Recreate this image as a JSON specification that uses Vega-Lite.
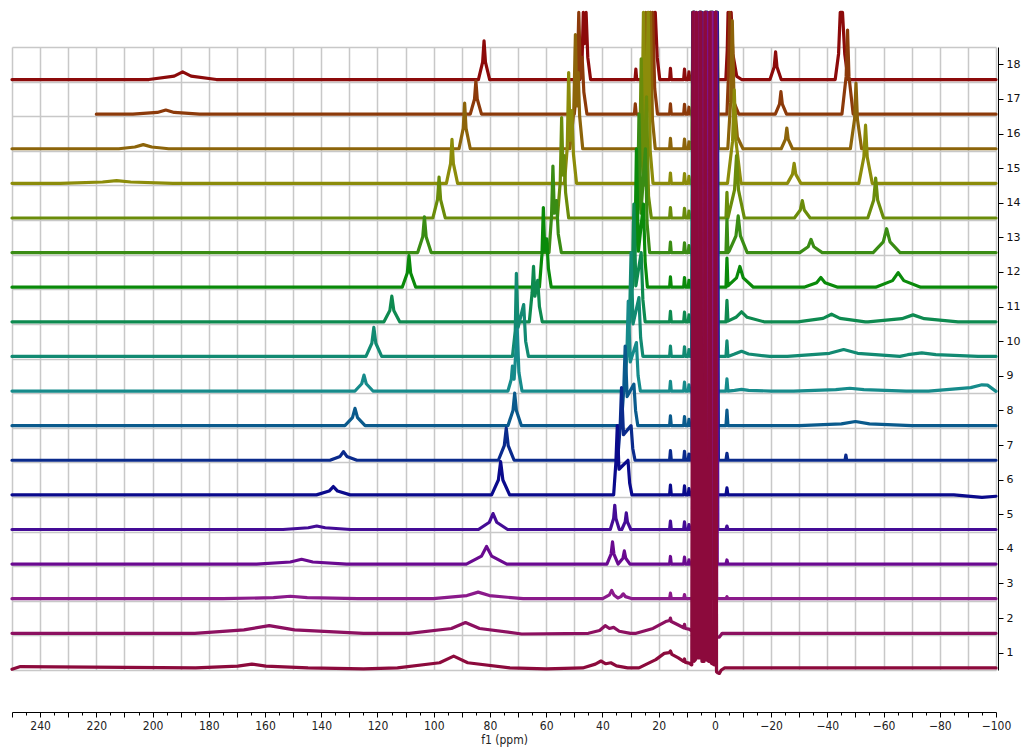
{
"$schema":"https://vega.github.io/schema/vega-lite/v6.json",
"width":984,"height":623,
"autosize":{"type":"none"},
"padding":{"left":12,"top":47,"right":30,"bottom":78},
"background":"white",
"config":{"view":{"stroke":null}},
"data":{"values":[
{"s":18,"x":250,"y":17.56},{"s":18,"x":201.3,"y":17.56},{"s":18,"x":192.3,"y":17.66},{"s":18,"x":189.3,"y":17.78},{"s":18,"x":186.3,"y":17.66},{"s":18,"x":177.3,"y":17.56},
{"s":18,"x":84.1,"y":17.56},{"s":18,"x":82.6,"y":18.06},{"s":18,"x":82.1,"y":18.68},{"s":18,"x":81.6,"y":18.06},{"s":18,"x":80.1,"y":17.56},
{"s":18,"x":48.0,"y":17.56},{"s":18,"x":47.2,"y":18.2},{"s":18,"x":46.8,"y":19.5},{"s":18,"x":46.3,"y":18.6},{"s":18,"x":45.8,"y":19.5},{"s":18,"x":45.2,"y":18.2},{"s":18,"x":44.2,"y":17.56},
{"s":18,"x":28.4,"y":17.56},{"s":18,"x":28.1,"y":17.86},{"s":18,"x":27.8,"y":17.56},
{"s":18,"x":24.0,"y":17.56},{"s":18,"x":23.3,"y":18.5},{"s":18,"x":23.0,"y":19.5},{"s":18,"x":22.2,"y":18.3},{"s":18,"x":21.2,"y":19.5},{"s":18,"x":20.5,"y":18.2},{"s":18,"x":19.6,"y":17.56},
{"s":18,"x":16.1,"y":17.56},{"s":18,"x":15.8,"y":17.88},{"s":18,"x":15.5,"y":17.56},{"s":18,"x":11.1,"y":17.56},{"s":18,"x":10.8,"y":17.86},{"s":18,"x":10.5,"y":17.56},{"s":18,"x":9.5,"y":17.56},{"s":18,"x":9.2,"y":17.78},{"s":18,"x":8.9,"y":17.56},
{"s":18,"x":7.95,"y":17.56},{"s":18,"x":7.6,"y":19.5},{"s":18,"x":7.25,"y":17.56},{"s":18,"x":5.85,"y":17.56},{"s":18,"x":5.5,"y":19.5},{"s":18,"x":5.15,"y":17.56},{"s":18,"x":3.45,"y":17.56},{"s":18,"x":3.1,"y":19.5},{"s":18,"x":2.75,"y":17.56},{"s":18,"x":1.65,"y":17.56},{"s":18,"x":1.3,"y":19.5},{"s":18,"x":0.95,"y":17.56},{"s":18,"x":-0.25,"y":17.56},{"s":18,"x":-0.6,"y":19.5},{"s":18,"x":-0.95,"y":17.56},
{"s":18,"x":-3.9,"y":17.56},{"s":18,"x":-4.4,"y":18.4},{"s":18,"x":-4.7,"y":19.5},{"s":18,"x":-5.2,"y":18.6},{"s":18,"x":-5.8,"y":19.5},{"s":18,"x":-6.4,"y":18.3},{"s":18,"x":-7.8,"y":17.65},{"s":18,"x":-9.5,"y":17.56},
{"s":18,"x":-19.6,"y":17.56},{"s":18,"x":-21.1,"y":17.92},{"s":18,"x":-21.6,"y":18.36},{"s":18,"x":-22.1,"y":17.92},{"s":18,"x":-23.6,"y":17.56},
{"s":18,"x":-42.8,"y":17.56},{"s":18,"x":-44.0,"y":18.3},{"s":18,"x":-44.6,"y":19.5},{"s":18,"x":-45.4,"y":19.5},{"s":18,"x":-46.2,"y":18.3},{"s":18,"x":-47.4,"y":17.56},
{"s":18,"x":-100,"y":17.56},

{"s":17,"x":220,"y":16.56},{"s":17,"x":207,"y":16.56},{"s":17,"x":198.3,"y":16.61},{"s":17,"x":195.3,"y":16.68},{"s":17,"x":192.3,"y":16.61},{"s":17,"x":183.3,"y":16.56},
{"s":17,"x":87.0,"y":16.56},{"s":17,"x":85.5,"y":16.99},{"s":17,"x":85.0,"y":17.52},{"s":17,"x":84.5,"y":16.99},{"s":17,"x":83.0,"y":16.56},
{"s":17,"x":50.0,"y":16.56},{"s":17,"x":49.0,"y":17.4},{"s":17,"x":48.4,"y":19.5},{"s":17,"x":47.8,"y":17.6},{"s":17,"x":47.2,"y":18.2},{"s":17,"x":46.6,"y":17.2},{"s":17,"x":45.5,"y":16.56},
{"s":17,"x":28.6,"y":16.56},{"s":17,"x":28.3,"y":16.86},{"s":17,"x":28.0,"y":16.56},
{"s":17,"x":24.8,"y":16.56},{"s":17,"x":24.1,"y":17.5},{"s":17,"x":23.8,"y":19.5},{"s":17,"x":23.0,"y":17.6},{"s":17,"x":22.1,"y":19.5},{"s":17,"x":21.4,"y":17.3},{"s":17,"x":20.4,"y":16.56},
{"s":17,"x":16.1,"y":16.56},{"s":17,"x":15.8,"y":16.86},{"s":17,"x":15.5,"y":16.56},{"s":17,"x":11.1,"y":16.56},{"s":17,"x":10.8,"y":16.84},{"s":17,"x":10.5,"y":16.56},{"s":17,"x":9.5,"y":16.56},{"s":17,"x":9.2,"y":16.76},{"s":17,"x":8.9,"y":16.56},
{"s":17,"x":7.65,"y":16.56},{"s":17,"x":7.3,"y":19.5},{"s":17,"x":6.95,"y":16.56},{"s":17,"x":5.35,"y":16.56},{"s":17,"x":5.0,"y":19.5},{"s":17,"x":4.65,"y":16.56},{"s":17,"x":3.95,"y":16.56},{"s":17,"x":3.6,"y":19.5},{"s":17,"x":3.25,"y":16.56},{"s":17,"x":1.35,"y":16.56},{"s":17,"x":1.0,"y":19.5},{"s":17,"x":0.65,"y":16.56},{"s":17,"x":0.05,"y":16.56},{"s":17,"x":-0.3,"y":19.5},{"s":17,"x":-0.65,"y":16.56},
{"s":17,"x":-4.3,"y":16.56},{"s":17,"x":-4.8,"y":17.6},{"s":17,"x":-5.3,"y":19.5},{"s":17,"x":-5.8,"y":17.8},{"s":17,"x":-6.8,"y":16.9},{"s":17,"x":-8.5,"y":16.56},
{"s":17,"x":-21.5,"y":16.56},{"s":17,"x":-23.0,"y":16.85},{"s":17,"x":-23.5,"y":17.21},{"s":17,"x":-24.0,"y":16.85},{"s":17,"x":-25.5,"y":16.56},
{"s":17,"x":-45.2,"y":16.56},{"s":17,"x":-46.7,"y":17.65},{"s":17,"x":-47.2,"y":18.99},{"s":17,"x":-47.7,"y":17.65},{"s":17,"x":-49.2,"y":16.56},
{"s":17,"x":-100,"y":16.56},

{"s":16,"x":250,"y":15.56},{"s":16,"x":212,"y":15.56},{"s":16,"x":206.3,"y":15.61},{"s":16,"x":203.3,"y":15.68},{"s":16,"x":200.3,"y":15.61},{"s":16,"x":194.3,"y":15.56},
{"s":16,"x":91.0,"y":15.56},{"s":16,"x":89.5,"y":16.15},{"s":16,"x":89.0,"y":16.88},{"s":16,"x":88.5,"y":16.15},{"s":16,"x":87.0,"y":15.56},
{"s":16,"x":51.6,"y":15.56},{"s":16,"x":50.2,"y":16.6},{"s":16,"x":49.6,"y":18.86},{"s":16,"x":49.1,"y":16.8},{"s":16,"x":48.6,"y":17.76},{"s":16,"x":48.1,"y":16.5},{"s":16,"x":47.0,"y":15.56},
{"s":16,"x":25.6,"y":15.56},{"s":16,"x":24.9,"y":16.6},{"s":16,"x":24.6,"y":19.5},{"s":16,"x":23.8,"y":16.7},{"s":16,"x":22.9,"y":19.5},{"s":16,"x":22.2,"y":16.4},{"s":16,"x":21.2,"y":15.56},
{"s":16,"x":16.1,"y":15.56},{"s":16,"x":15.8,"y":15.86},{"s":16,"x":15.5,"y":15.56},{"s":16,"x":11.1,"y":15.56},{"s":16,"x":10.8,"y":15.84},{"s":16,"x":10.5,"y":15.56},{"s":16,"x":9.5,"y":15.56},{"s":16,"x":9.2,"y":15.76},{"s":16,"x":8.9,"y":15.56},
{"s":16,"x":8.15,"y":15.56},{"s":16,"x":7.8,"y":19.5},{"s":16,"x":7.45,"y":15.56},{"s":16,"x":5.65,"y":15.56},{"s":16,"x":5.3,"y":19.5},{"s":16,"x":4.95,"y":15.56},{"s":16,"x":3.25,"y":15.56},{"s":16,"x":2.9,"y":19.5},{"s":16,"x":2.55,"y":15.56},{"s":16,"x":1.85,"y":15.56},{"s":16,"x":1.5,"y":19.5},{"s":16,"x":1.15,"y":15.56},{"s":16,"x":-0.55,"y":15.56},{"s":16,"x":-0.9,"y":19.5},{"s":16,"x":-1.25,"y":15.56},
{"s":16,"x":-4.6,"y":15.56},{"s":16,"x":-5.6,"y":16.9},{"s":16,"x":-6.2,"y":19.26},{"s":16,"x":-6.8,"y":17.0},{"s":16,"x":-8.0,"y":15.9},{"s":16,"x":-10.0,"y":15.56},
{"s":16,"x":-23.6,"y":15.56},{"s":16,"x":-25.1,"y":15.83},{"s":16,"x":-25.6,"y":16.16},{"s":16,"x":-26.1,"y":15.83},{"s":16,"x":-27.6,"y":15.56},
{"s":16,"x":-48.2,"y":15.56},{"s":16,"x":-49.7,"y":16.42},{"s":16,"x":-50.2,"y":17.46},{"s":16,"x":-50.7,"y":16.42},{"s":16,"x":-52.2,"y":15.56},
{"s":16,"x":-100,"y":15.56},

{"s":15,"x":250,"y":14.56},{"s":15,"x":232.8,"y":14.56},{"s":15,"x":217.8,"y":14.6},{"s":15,"x":212.8,"y":14.64},{"s":15,"x":207.8,"y":14.6},{"s":15,"x":192.8,"y":14.56},
{"s":15,"x":95.5,"y":14.56},{"s":15,"x":94.0,"y":15.13},{"s":15,"x":93.5,"y":15.83},{"s":15,"x":93.0,"y":15.13},{"s":15,"x":91.5,"y":14.56},
{"s":15,"x":53.5,"y":14.56},{"s":15,"x":52.5,"y":15.6},{"s":15,"x":52.0,"y":17.76},{"s":15,"x":51.5,"y":15.8},{"s":15,"x":50.9,"y":16.66},{"s":15,"x":50.3,"y":15.4},{"s":15,"x":49.2,"y":14.56},
{"s":15,"x":27.2,"y":14.56},{"s":15,"x":26.0,"y":15.4},{"s":15,"x":25.4,"y":19.5},{"s":15,"x":24.6,"y":15.6},{"s":15,"x":23.7,"y":19.5},{"s":15,"x":23.0,"y":15.5},{"s":15,"x":22.0,"y":14.56},
{"s":15,"x":16.1,"y":14.56},{"s":15,"x":15.8,"y":14.86},{"s":15,"x":15.5,"y":14.56},{"s":15,"x":11.1,"y":14.56},{"s":15,"x":10.8,"y":14.84},{"s":15,"x":10.5,"y":14.56},{"s":15,"x":9.5,"y":14.56},{"s":15,"x":9.2,"y":14.76},{"s":15,"x":8.9,"y":14.56},
{"s":15,"x":7.45,"y":14.56},{"s":15,"x":7.1,"y":19.5},{"s":15,"x":6.75,"y":14.56},{"s":15,"x":5.05,"y":14.56},{"s":15,"x":4.7,"y":19.5},{"s":15,"x":4.35,"y":14.56},{"s":15,"x":3.55,"y":14.56},{"s":15,"x":3.2,"y":19.5},{"s":15,"x":2.85,"y":14.56},{"s":15,"x":1.15,"y":14.56},{"s":15,"x":0.8,"y":19.5},{"s":15,"x":0.45,"y":14.56},{"s":15,"x":-0.15,"y":14.56},{"s":15,"x":-0.5,"y":19.5},{"s":15,"x":-0.85,"y":14.56},
{"s":15,"x":-4.5,"y":14.56},{"s":15,"x":-6.3,"y":15.78},{"s":15,"x":-6.9,"y":17.26},{"s":15,"x":-7.5,"y":15.78},{"s":15,"x":-9.3,"y":14.56},
{"s":15,"x":-25.8,"y":14.56},{"s":15,"x":-27.6,"y":14.82},{"s":15,"x":-28.2,"y":15.14},{"s":15,"x":-28.8,"y":14.82},{"s":15,"x":-30.6,"y":14.56},
{"s":15,"x":-51.2,"y":14.56},{"s":15,"x":-53.0,"y":15.32},{"s":15,"x":-53.6,"y":16.24},{"s":15,"x":-54.2,"y":15.32},{"s":15,"x":-56.0,"y":14.56},
{"s":15,"x":-100,"y":14.56},

{"s":14,"x":250,"y":13.56},
{"s":14,"x":100.3,"y":13.56},{"s":14,"x":98.65,"y":14.09},{"s":14,"x":98.1,"y":14.74},{"s":14,"x":97.55,"y":14.09},{"s":14,"x":95.9,"y":13.56},
{"s":14,"x":56.0,"y":13.56},{"s":14,"x":55.0,"y":14.6},{"s":14,"x":54.5,"y":16.46},{"s":14,"x":54.0,"y":14.8},{"s":14,"x":53.6,"y":15.36},{"s":14,"x":53.1,"y":14.3},{"s":14,"x":52.0,"y":13.56},
{"s":14,"x":27.8,"y":13.56},{"s":14,"x":26.8,"y":14.8},{"s":14,"x":26.2,"y":18.16},{"s":14,"x":25.4,"y":14.5},{"s":14,"x":24.3,"y":17.06},{"s":14,"x":23.6,"y":14.2},{"s":14,"x":22.6,"y":13.56},
{"s":14,"x":16.1,"y":13.56},{"s":14,"x":15.8,"y":13.86},{"s":14,"x":15.5,"y":13.56},{"s":14,"x":11.1,"y":13.56},{"s":14,"x":10.8,"y":13.84},{"s":14,"x":10.5,"y":13.56},{"s":14,"x":9.5,"y":13.56},{"s":14,"x":9.2,"y":13.76},{"s":14,"x":8.9,"y":13.56},
{"s":14,"x":7.85,"y":13.56},{"s":14,"x":7.5,"y":19.5},{"s":14,"x":7.15,"y":13.56},{"s":14,"x":5.95,"y":13.56},{"s":14,"x":5.6,"y":19.5},{"s":14,"x":5.25,"y":13.56},{"s":14,"x":3.05,"y":13.56},{"s":14,"x":2.7,"y":19.5},{"s":14,"x":2.35,"y":13.56},{"s":14,"x":1.45,"y":13.56},{"s":14,"x":1.1,"y":19.5},{"s":14,"x":0.75,"y":13.56},{"s":14,"x":0.15,"y":13.56},{"s":14,"x":-0.2,"y":19.5},{"s":14,"x":-0.55,"y":13.56},
{"s":14,"x":-3.95,"y":13.56},{"s":14,"x":-4.3,"y":14.3},{"s":14,"x":-4.65,"y":13.56},{"s":14,"x":-7.0,"y":14.37},{"s":14,"x":-7.7,"y":15.36},{"s":14,"x":-8.4,"y":14.37},{"s":14,"x":-10.5,"y":13.56},
{"s":14,"x":-28.3,"y":13.56},{"s":14,"x":-30.4,"y":13.79},{"s":14,"x":-31.1,"y":14.06},{"s":14,"x":-31.8,"y":13.79},{"s":14,"x":-33.9,"y":13.56},
{"s":14,"x":-54.4,"y":13.56},{"s":14,"x":-56.5,"y":14.08},{"s":14,"x":-57.2,"y":14.71},{"s":14,"x":-57.9,"y":14.08},{"s":14,"x":-60.0,"y":13.56},
{"s":14,"x":-100,"y":13.56},

{"s":13,"x":250,"y":12.56},
{"s":13,"x":105.7,"y":12.56},{"s":13,"x":103.9,"y":13.02},{"s":13,"x":103.3,"y":13.59},{"s":13,"x":102.7,"y":13.02},{"s":13,"x":100.9,"y":12.56},
{"s":13,"x":59.0,"y":12.56},{"s":13,"x":58.1,"y":13.6},{"s":13,"x":57.6,"y":15.06},{"s":13,"x":57.1,"y":13.7},{"s":13,"x":56.3,"y":14.06},{"s":13,"x":55.7,"y":13.1},{"s":13,"x":54.6,"y":12.56},
{"s":13,"x":28.5,"y":12.56},{"s":13,"x":27.5,"y":13.8},{"s":13,"x":27.0,"y":16.56},{"s":13,"x":26.3,"y":13.7},{"s":13,"x":24.7,"y":15.56},{"s":13,"x":24.1,"y":13.4},{"s":13,"x":23.2,"y":12.56},
{"s":13,"x":16.1,"y":12.56},{"s":13,"x":15.8,"y":12.86},{"s":13,"x":15.5,"y":12.56},{"s":13,"x":11.1,"y":12.56},{"s":13,"x":10.8,"y":12.84},{"s":13,"x":10.5,"y":12.56},{"s":13,"x":9.5,"y":12.56},{"s":13,"x":9.2,"y":12.76},{"s":13,"x":8.9,"y":12.56},
{"s":13,"x":7.55,"y":12.56},{"s":13,"x":7.2,"y":19.5},{"s":13,"x":6.85,"y":12.56},{"s":13,"x":5.45,"y":12.56},{"s":13,"x":5.1,"y":19.5},{"s":13,"x":4.75,"y":12.56},{"s":13,"x":3.65,"y":12.56},{"s":13,"x":3.3,"y":19.5},{"s":13,"x":2.95,"y":12.56},{"s":13,"x":1.25,"y":12.56},{"s":13,"x":0.9,"y":19.5},{"s":13,"x":0.55,"y":12.56},{"s":13,"x":-0.35,"y":12.56},{"s":13,"x":-0.7,"y":19.5},{"s":13,"x":-1.05,"y":12.56},
{"s":13,"x":-3.95,"y":12.56},{"s":13,"x":-4.3,"y":13.52},{"s":13,"x":-4.65,"y":12.56},{"s":13,"x":-5.1,"y":12.6},{"s":13,"x":-7.5,"y":13.04},{"s":13,"x":-8.3,"y":13.62},{"s":13,"x":-9.1,"y":13.04},{"s":13,"x":-11.5,"y":12.56},
{"s":13,"x":-30.2,"y":12.56},{"s":13,"x":-33.2,"y":12.73},{"s":13,"x":-34.2,"y":12.94},{"s":13,"x":-35.2,"y":12.73},{"s":13,"x":-38.2,"y":12.56},
{"s":13,"x":-56.3,"y":12.56},{"s":13,"x":-59.9,"y":12.87},{"s":13,"x":-61.1,"y":13.25},{"s":13,"x":-62.3,"y":12.87},{"s":13,"x":-65.9,"y":12.56},
{"s":13,"x":-100,"y":12.56},

{"s":12,"x":250,"y":11.56},
{"s":12,"x":111.2,"y":11.56},{"s":12,"x":109.4,"y":11.97},{"s":12,"x":108.8,"y":12.47},{"s":12,"x":108.2,"y":11.97},{"s":12,"x":106.4,"y":11.56},
{"s":12,"x":62.4,"y":11.56},{"s":12,"x":61.5,"y":12.5},{"s":12,"x":61.0,"y":13.86},{"s":12,"x":60.5,"y":12.6},{"s":12,"x":59.8,"y":12.96},{"s":12,"x":59.2,"y":12.1},{"s":12,"x":58.2,"y":11.56},
{"s":12,"x":29.3,"y":11.56},{"s":12,"x":28.4,"y":12.8},{"s":12,"x":27.9,"y":15.56},{"s":12,"x":27.2,"y":12.6},{"s":12,"x":25.4,"y":13.96},{"s":12,"x":24.8,"y":12.3},{"s":12,"x":24.0,"y":11.56},
{"s":12,"x":16.1,"y":11.56},{"s":12,"x":15.8,"y":11.86},{"s":12,"x":15.5,"y":11.56},{"s":12,"x":11.1,"y":11.56},{"s":12,"x":10.8,"y":11.84},{"s":12,"x":10.5,"y":11.56},{"s":12,"x":9.5,"y":11.56},{"s":12,"x":9.2,"y":11.76},{"s":12,"x":8.9,"y":11.56},
{"s":12,"x":8.05,"y":11.56},{"s":12,"x":7.7,"y":19.5},{"s":12,"x":7.35,"y":11.56},{"s":12,"x":5.25,"y":11.56},{"s":12,"x":4.9,"y":19.5},{"s":12,"x":4.55,"y":11.56},{"s":12,"x":3.35,"y":11.56},{"s":12,"x":3.0,"y":19.5},{"s":12,"x":2.65,"y":11.56},{"s":12,"x":1.75,"y":11.56},{"s":12,"x":1.4,"y":19.5},{"s":12,"x":1.05,"y":11.56},{"s":12,"x":-0.15,"y":11.56},{"s":12,"x":-0.5,"y":19.5},{"s":12,"x":-0.85,"y":11.56},
{"s":12,"x":-3.95,"y":11.56},{"s":12,"x":-4.3,"y":12.4},{"s":12,"x":-4.65,"y":11.6},{"s":12,"x":-7.7,"y":11.83},{"s":12,"x":-8.9,"y":12.16},{"s":12,"x":-10.1,"y":11.83},{"s":12,"x":-13.7,"y":11.56},
{"s":12,"x":-31.7,"y":11.56},{"s":12,"x":-36.2,"y":11.69},{"s":12,"x":-37.7,"y":11.84},{"s":12,"x":-39.2,"y":11.69},{"s":12,"x":-43.7,"y":11.56},
{"s":12,"x":-57.2,"y":11.56},{"s":12,"x":-63.2,"y":11.75},{"s":12,"x":-65.2,"y":11.98},{"s":12,"x":-67.2,"y":11.75},{"s":12,"x":-73.2,"y":11.56},
{"s":12,"x":-100,"y":11.56},

{"s":11,"x":250,"y":10.56},
{"s":11,"x":117.7,"y":10.56},{"s":11,"x":115.6,"y":10.89},{"s":11,"x":114.9,"y":11.3},{"s":11,"x":114.2,"y":10.89},{"s":11,"x":112.1,"y":10.56},
{"s":11,"x":66.0,"y":10.56},{"s":11,"x":65.0,"y":11.4},{"s":11,"x":64.5,"y":12.16},{"s":11,"x":64.0,"y":11.3},{"s":11,"x":63.0,"y":11.76},{"s":11,"x":62.4,"y":11.0},{"s":11,"x":61.4,"y":10.56},
{"s":11,"x":30.2,"y":10.56},{"s":11,"x":29.3,"y":11.9},{"s":11,"x":28.8,"y":13.96},{"s":11,"x":28.1,"y":11.6},{"s":11,"x":26.2,"y":12.56},{"s":11,"x":25.6,"y":11.2},{"s":11,"x":24.8,"y":10.56},
{"s":11,"x":16.1,"y":10.56},{"s":11,"x":15.8,"y":10.86},{"s":11,"x":15.5,"y":10.56},{"s":11,"x":11.1,"y":10.56},{"s":11,"x":10.8,"y":10.84},{"s":11,"x":10.5,"y":10.56},{"s":11,"x":9.5,"y":10.56},{"s":11,"x":9.2,"y":10.76},{"s":11,"x":8.9,"y":10.56},
{"s":11,"x":7.75,"y":10.56},{"s":11,"x":7.4,"y":19.5},{"s":11,"x":7.05,"y":10.56},{"s":11,"x":5.75,"y":10.56},{"s":11,"x":5.4,"y":19.5},{"s":11,"x":5.05,"y":10.56},{"s":11,"x":2.95,"y":10.56},{"s":11,"x":2.6,"y":19.5},{"s":11,"x":2.25,"y":10.56},{"s":11,"x":1.55,"y":10.56},{"s":11,"x":1.2,"y":19.5},{"s":11,"x":0.85,"y":10.56},{"s":11,"x":0.05,"y":10.56},{"s":11,"x":-0.3,"y":19.5},{"s":11,"x":-0.65,"y":10.56},
{"s":11,"x":-3.95,"y":10.56},{"s":11,"x":-4.3,"y":11.18},{"s":11,"x":-4.65,"y":10.58},{"s":11,"x":-7.5,"y":10.69},{"s":11,"x":-9.5,"y":10.85},{"s":11,"x":-11.5,"y":10.69},{"s":11,"x":-17.5,"y":10.56},
{"s":11,"x":-29.5,"y":10.56},{"s":11,"x":-38.5,"y":10.66},{"s":11,"x":-41.5,"y":10.78},{"s":11,"x":-44.5,"y":10.66},{"s":11,"x":-53.5,"y":10.56},
{"s":11,"x":-54.5,"y":10.56},{"s":11,"x":-66.5,"y":10.65},{"s":11,"x":-70.5,"y":10.76},{"s":11,"x":-74.5,"y":10.65},{"s":11,"x":-86.5,"y":10.56},
{"s":11,"x":-100,"y":10.56},

{"s":10,"x":250,"y":9.56},
{"s":10,"x":124.1,"y":9.56},{"s":10,"x":122.0,"y":9.94},{"s":10,"x":121.3,"y":10.4},{"s":10,"x":120.6,"y":9.94},{"s":10,"x":118.5,"y":9.56},
{"s":10,"x":72.0,"y":9.56},{"s":10,"x":71.0,"y":10.3},{"s":10,"x":70.6,"y":11.96},{"s":10,"x":70.0,"y":10.4},{"s":10,"x":68.0,"y":11.06},{"s":10,"x":67.3,"y":10.0},{"s":10,"x":66.3,"y":9.56},
{"s":10,"x":31.2,"y":9.56},{"s":10,"x":30.3,"y":10.8},{"s":10,"x":29.8,"y":12.56},{"s":10,"x":29.1,"y":10.5},{"s":10,"x":27.0,"y":11.26},{"s":10,"x":26.4,"y":10.1},{"s":10,"x":25.6,"y":9.56},
{"s":10,"x":16.1,"y":9.56},{"s":10,"x":15.8,"y":9.86},{"s":10,"x":15.5,"y":9.56},{"s":10,"x":11.1,"y":9.56},{"s":10,"x":10.8,"y":9.84},{"s":10,"x":10.5,"y":9.56},{"s":10,"x":9.5,"y":9.56},{"s":10,"x":9.2,"y":9.76},{"s":10,"x":8.9,"y":9.56},
{"s":10,"x":8.25,"y":9.56},{"s":10,"x":7.9,"y":19.5},{"s":10,"x":7.55,"y":9.56},{"s":10,"x":5.55,"y":9.56},{"s":10,"x":5.2,"y":19.5},{"s":10,"x":4.85,"y":9.56},{"s":10,"x":3.85,"y":9.56},{"s":10,"x":3.5,"y":19.5},{"s":10,"x":3.15,"y":9.56},{"s":10,"x":2.05,"y":9.56},{"s":10,"x":1.7,"y":19.5},{"s":10,"x":1.35,"y":9.56},{"s":10,"x":-0.45,"y":9.56},{"s":10,"x":-0.8,"y":19.5},{"s":10,"x":-1.15,"y":9.56},
{"s":10,"x":-3.95,"y":9.56},{"s":10,"x":-4.3,"y":10.01},{"s":10,"x":-4.65,"y":9.56},{"s":10,"x":-7.0,"y":9.63},{"s":10,"x":-9.5,"y":9.71},{"s":10,"x":-12.0,"y":9.63},{"s":10,"x":-19.5,"y":9.56},
{"s":10,"x":-25.8,"y":9.56},{"s":10,"x":-40.8,"y":9.65},{"s":10,"x":-45.8,"y":9.76},{"s":10,"x":-50.8,"y":9.65},{"s":10,"x":-65.8,"y":9.56},
{"s":10,"x":-68.6,"y":9.61},{"s":10,"x":-73.6,"y":9.66},{"s":10,"x":-78.6,"y":9.61},{"s":10,"x":-93.6,"y":9.56},
{"s":10,"x":-100,"y":9.56},

{"s":9,"x":250,"y":8.56},
{"s":9,"x":128.0,"y":8.56},{"s":9,"x":125.6,"y":8.77},{"s":9,"x":124.8,"y":9.02},{"s":9,"x":124.0,"y":8.77},{"s":9,"x":121.6,"y":8.56},
{"s":9,"x":73.6,"y":8.56},{"s":9,"x":72.4,"y":8.9},{"s":9,"x":72.0,"y":9.28},{"s":9,"x":71.4,"y":8.9},{"s":9,"x":70.3,"y":10.36},{"s":9,"x":69.7,"y":9.1},{"s":9,"x":68.6,"y":8.56},
{"s":9,"x":32.2,"y":8.56},{"s":9,"x":31.3,"y":9.6},{"s":9,"x":30.8,"y":11.16},{"s":9,"x":30.1,"y":9.4},{"s":9,"x":27.9,"y":9.96},{"s":9,"x":27.3,"y":9.0},{"s":9,"x":26.5,"y":8.56},
{"s":9,"x":16.1,"y":8.56},{"s":9,"x":15.8,"y":8.84},{"s":9,"x":15.5,"y":8.56},{"s":9,"x":11.1,"y":8.56},{"s":9,"x":10.8,"y":8.82},{"s":9,"x":10.5,"y":8.56},{"s":9,"x":9.5,"y":8.56},{"s":9,"x":9.2,"y":8.74},{"s":9,"x":8.9,"y":8.56},
{"s":9,"x":7.35,"y":8.56},{"s":9,"x":7.0,"y":19.5},{"s":9,"x":6.65,"y":8.56},{"s":9,"x":4.95,"y":8.56},{"s":9,"x":4.6,"y":19.5},{"s":9,"x":4.25,"y":8.56},{"s":9,"x":3.45,"y":8.56},{"s":9,"x":3.1,"y":19.5},{"s":9,"x":2.75,"y":8.56},{"s":9,"x":1.05,"y":8.56},{"s":9,"x":0.7,"y":19.5},{"s":9,"x":0.35,"y":8.56},{"s":9,"x":-0.25,"y":8.56},{"s":9,"x":-0.6,"y":19.5},{"s":9,"x":-0.95,"y":8.56},
{"s":9,"x":-3.95,"y":8.56},{"s":9,"x":-4.3,"y":8.91},{"s":9,"x":-4.65,"y":8.56},{"s":9,"x":-7.0,"y":8.58},{"s":9,"x":-9.5,"y":8.61},{"s":9,"x":-12.0,"y":8.58},{"s":9,"x":-20.0,"y":8.56},
{"s":9,"x":-28.0,"y":8.56},{"s":9,"x":-43.0,"y":8.6},{"s":9,"x":-48.0,"y":8.64},{"s":9,"x":-53.0,"y":8.6},{"s":9,"x":-68.0,"y":8.56},
{"s":9,"x":-76.0,"y":8.56},{"s":9,"x":-91.0,"y":8.66},{"s":9,"x":-95.0,"y":8.74},{"s":9,"x":-97.0,"y":8.73},{"s":9,"x":-100,"y":8.55},

{"s":8,"x":250,"y":7.56},
{"s":8,"x":131.6,"y":7.56},{"s":8,"x":128.9,"y":7.79},{"s":8,"x":128.0,"y":8.06},{"s":8,"x":127.1,"y":7.79},{"s":8,"x":124.4,"y":7.56},
{"s":8,"x":73.6,"y":7.56},{"s":8,"x":71.8,"y":8.0},{"s":8,"x":71.2,"y":8.5},{"s":8,"x":70.6,"y":8.0},{"s":8,"x":68.8,"y":7.56},
{"s":8,"x":33.3,"y":7.56},{"s":8,"x":32.4,"y":8.6},{"s":8,"x":31.9,"y":9.86},{"s":8,"x":31.2,"y":8.4},{"s":8,"x":28.8,"y":8.76},{"s":8,"x":28.2,"y":8.0},{"s":8,"x":27.4,"y":7.56},
{"s":8,"x":16.1,"y":7.56},{"s":8,"x":15.8,"y":7.84},{"s":8,"x":15.5,"y":7.56},{"s":8,"x":11.1,"y":7.56},{"s":8,"x":10.8,"y":7.82},{"s":8,"x":10.5,"y":7.56},{"s":8,"x":9.5,"y":7.56},{"s":8,"x":9.2,"y":7.74},{"s":8,"x":8.9,"y":7.56},
{"s":8,"x":7.85,"y":7.56},{"s":8,"x":7.5,"y":19.5},{"s":8,"x":7.15,"y":7.56},{"s":8,"x":5.35,"y":7.56},{"s":8,"x":5.0,"y":19.5},{"s":8,"x":4.65,"y":7.56},{"s":8,"x":3.65,"y":7.56},{"s":8,"x":3.3,"y":19.5},{"s":8,"x":2.95,"y":7.56},{"s":8,"x":1.35,"y":7.56},{"s":8,"x":1.0,"y":19.5},{"s":8,"x":0.65,"y":7.56},{"s":8,"x":-0.05,"y":7.56},{"s":8,"x":-0.4,"y":19.5},{"s":8,"x":-0.75,"y":7.56},
{"s":8,"x":-3.95,"y":7.56},{"s":8,"x":-4.3,"y":8.01},{"s":8,"x":-4.65,"y":7.56},
{"s":8,"x":-30.0,"y":7.56},{"s":8,"x":-45.0,"y":7.61},{"s":8,"x":-50.0,"y":7.68},{"s":8,"x":-55.0,"y":7.61},{"s":8,"x":-70.0,"y":7.56},
{"s":8,"x":-100,"y":7.56},

{"s":7,"x":250,"y":6.56},
{"s":7,"x":136.9,"y":6.56},{"s":7,"x":133.3,"y":6.67},{"s":7,"x":132.1,"y":6.81},{"s":7,"x":130.9,"y":6.67},{"s":7,"x":127.3,"y":6.56},
{"s":7,"x":77.0,"y":6.56},{"s":7,"x":74.9,"y":6.98},{"s":7,"x":74.2,"y":7.49},{"s":7,"x":73.5,"y":6.98},{"s":7,"x":71.4,"y":6.56},
{"s":7,"x":34.6,"y":6.56},{"s":7,"x":33.7,"y":7.5},{"s":7,"x":33.2,"y":8.66},{"s":7,"x":32.5,"y":7.3},{"s":7,"x":29.8,"y":7.56},{"s":7,"x":29.2,"y":6.9},{"s":7,"x":28.4,"y":6.56},
{"s":7,"x":16.1,"y":6.56},{"s":7,"x":15.8,"y":6.84},{"s":7,"x":15.5,"y":6.56},{"s":7,"x":11.1,"y":6.56},{"s":7,"x":10.8,"y":6.82},{"s":7,"x":10.5,"y":6.56},{"s":7,"x":9.5,"y":6.56},{"s":7,"x":9.2,"y":6.74},{"s":7,"x":8.9,"y":6.56},
{"s":7,"x":8.15,"y":6.56},{"s":7,"x":7.8,"y":19.5},{"s":7,"x":7.45,"y":6.56},{"s":7,"x":5.85,"y":6.56},{"s":7,"x":5.5,"y":19.5},{"s":7,"x":5.15,"y":6.56},{"s":7,"x":3.15,"y":6.56},{"s":7,"x":2.8,"y":19.5},{"s":7,"x":2.45,"y":6.56},{"s":7,"x":1.85,"y":6.56},{"s":7,"x":1.5,"y":19.5},{"s":7,"x":1.15,"y":6.56},{"s":7,"x":-0.55,"y":6.56},{"s":7,"x":-0.9,"y":19.5},{"s":7,"x":-1.25,"y":6.56},
{"s":7,"x":-3.95,"y":6.56},{"s":7,"x":-4.3,"y":6.76},{"s":7,"x":-4.65,"y":6.56},
{"s":7,"x":-46.3,"y":6.56},{"s":7,"x":-46.6,"y":6.71},{"s":7,"x":-46.9,"y":6.56},
{"s":7,"x":-100,"y":6.56},

{"s":6,"x":250,"y":5.56},
{"s":6,"x":141.7,"y":5.56},{"s":6,"x":137.2,"y":5.67},{"s":6,"x":135.7,"y":5.8},{"s":6,"x":134.2,"y":5.67},{"s":6,"x":129.7,"y":5.56},
{"s":6,"x":79.4,"y":5.56},{"s":6,"x":77.0,"y":5.99},{"s":6,"x":76.2,"y":6.52},{"s":6,"x":75.4,"y":5.99},{"s":6,"x":73.0,"y":5.56},
{"s":6,"x":36.0,"y":5.56},{"s":6,"x":35.2,"y":6.5},{"s":6,"x":34.7,"y":7.56},{"s":6,"x":34.1,"y":6.3},{"s":6,"x":30.9,"y":6.56},{"s":6,"x":30.3,"y":5.9},{"s":6,"x":29.5,"y":5.56},
{"s":6,"x":16.1,"y":5.56},{"s":6,"x":15.8,"y":5.84},{"s":6,"x":15.5,"y":5.56},{"s":6,"x":11.1,"y":5.56},{"s":6,"x":10.8,"y":5.82},{"s":6,"x":10.5,"y":5.56},{"s":6,"x":9.5,"y":5.56},{"s":6,"x":9.2,"y":5.74},{"s":6,"x":8.9,"y":5.56},
{"s":6,"x":7.65,"y":5.56},{"s":6,"x":7.3,"y":19.5},{"s":6,"x":6.95,"y":5.56},{"s":6,"x":5.15,"y":5.56},{"s":6,"x":4.8,"y":19.5},{"s":6,"x":4.45,"y":5.56},{"s":6,"x":3.75,"y":5.56},{"s":6,"x":3.4,"y":19.5},{"s":6,"x":3.05,"y":5.56},{"s":6,"x":1.15,"y":5.56},{"s":6,"x":0.8,"y":19.5},{"s":6,"x":0.45,"y":5.56},{"s":6,"x":0.15,"y":5.56},{"s":6,"x":-0.2,"y":19.5},{"s":6,"x":-0.55,"y":5.56},
{"s":6,"x":-3.95,"y":5.56},{"s":6,"x":-4.3,"y":5.76},{"s":6,"x":-4.65,"y":5.56},
{"s":6,"x":-85.0,"y":5.56},{"s":6,"x":-95.0,"y":5.49},{"s":6,"x":-100,"y":5.52},

{"s":5,"x":250,"y":4.56},
{"s":5,"x":153.6,"y":4.56},{"s":5,"x":144.6,"y":4.61},{"s":5,"x":141.6,"y":4.66},{"s":5,"x":138.6,"y":4.61},{"s":5,"x":129.6,"y":4.56},
{"s":5,"x":84.1,"y":4.56},{"s":5,"x":80.2,"y":4.77},{"s":5,"x":78.9,"y":5.02},{"s":5,"x":77.6,"y":4.77},{"s":5,"x":73.7,"y":4.56},
{"s":5,"x":37.2,"y":4.56},{"s":5,"x":36.0,"y":4.88},{"s":5,"x":35.6,"y":5.26},{"s":5,"x":35.2,"y":4.88},{"s":5,"x":34.0,"y":4.56},{"s":5,"x":33.1,"y":4.56},{"s":5,"x":31.9,"y":4.78},{"s":5,"x":31.5,"y":5.04},{"s":5,"x":31.1,"y":4.78},{"s":5,"x":29.9,"y":4.56},
{"s":5,"x":16.1,"y":4.56},{"s":5,"x":15.8,"y":4.8},{"s":5,"x":15.5,"y":4.56},{"s":5,"x":11.1,"y":4.56},{"s":5,"x":10.8,"y":4.78},{"s":5,"x":10.5,"y":4.56},{"s":5,"x":9.5,"y":4.56},{"s":5,"x":9.2,"y":4.7},{"s":5,"x":8.9,"y":4.56},
{"s":5,"x":7.95,"y":4.56},{"s":5,"x":7.6,"y":19.5},{"s":5,"x":7.25,"y":4.56},{"s":5,"x":5.45,"y":4.56},{"s":5,"x":5.1,"y":19.5},{"s":5,"x":4.75,"y":4.56},{"s":5,"x":3.05,"y":4.56},{"s":5,"x":2.7,"y":19.5},{"s":5,"x":2.35,"y":4.56},{"s":5,"x":1.65,"y":4.56},{"s":5,"x":1.3,"y":19.5},{"s":5,"x":0.95,"y":4.56},{"s":5,"x":-0.35,"y":4.56},{"s":5,"x":-0.7,"y":19.5},{"s":5,"x":-1.05,"y":4.56},
{"s":5,"x":-3.95,"y":4.56},{"s":5,"x":-4.3,"y":4.66},{"s":5,"x":-4.65,"y":4.56},
{"s":5,"x":-100,"y":4.56},

{"s":4,"x":250,"y":3.56},
{"s":4,"x":163.0,"y":3.56},{"s":4,"x":151.0,"y":3.62},{"s":4,"x":147.0,"y":3.7},{"s":4,"x":143.0,"y":3.62},{"s":4,"x":131.0,"y":3.56},
{"s":4,"x":88.4,"y":3.56},{"s":4,"x":83.0,"y":3.79},{"s":4,"x":81.2,"y":4.07},{"s":4,"x":79.4,"y":3.79},{"s":4,"x":74.0,"y":3.56},
{"s":4,"x":38.4,"y":3.56},{"s":4,"x":36.9,"y":3.85},{"s":4,"x":36.4,"y":4.2},{"s":4,"x":35.9,"y":3.85},{"s":4,"x":34.4,"y":3.56},{"s":4,"x":32.7,"y":3.73},{"s":4,"x":32.2,"y":3.94},{"s":4,"x":31.7,"y":3.73},{"s":4,"x":30.2,"y":3.56},
{"s":4,"x":16.1,"y":3.56},{"s":4,"x":15.8,"y":3.78},{"s":4,"x":15.5,"y":3.56},{"s":4,"x":11.1,"y":3.56},{"s":4,"x":10.8,"y":3.76},{"s":4,"x":10.5,"y":3.56},{"s":4,"x":9.5,"y":3.56},{"s":4,"x":9.2,"y":3.68},{"s":4,"x":8.9,"y":3.56},
{"s":4,"x":7.55,"y":3.56},{"s":4,"x":7.2,"y":19.5},{"s":4,"x":6.85,"y":3.56},{"s":4,"x":5.65,"y":3.56},{"s":4,"x":5.3,"y":19.5},{"s":4,"x":4.95,"y":3.56},{"s":4,"x":3.35,"y":3.56},{"s":4,"x":3.0,"y":19.5},{"s":4,"x":2.65,"y":3.56},{"s":4,"x":0.95,"y":3.56},{"s":4,"x":0.6,"y":19.5},{"s":4,"x":0.25,"y":3.56},{"s":4,"x":-0.15,"y":3.56},{"s":4,"x":-0.5,"y":19.5},{"s":4,"x":-0.85,"y":3.56},
{"s":4,"x":-3.95,"y":3.56},{"s":4,"x":-4.3,"y":3.68},{"s":4,"x":-4.65,"y":3.56},
{"s":4,"x":-100,"y":3.56},

{"s":3,"x":250,"y":2.56},
{"s":3,"x":175.0,"y":2.56},{"s":3,"x":157.0,"y":2.59},{"s":3,"x":151.0,"y":2.63},{"s":3,"x":145.0,"y":2.59},{"s":3,"x":127.0,"y":2.56},
{"s":3,"x":100.2,"y":2.56},{"s":3,"x":88.2,"y":2.65},{"s":3,"x":84.2,"y":2.75},{"s":3,"x":80.2,"y":2.65},{"s":3,"x":68.2,"y":2.56},
{"s":3,"x":39.9,"y":2.56},{"s":3,"x":37.5,"y":2.67},{"s":3,"x":36.7,"y":2.8},{"s":3,"x":35.9,"y":2.67},{"s":3,"x":34.5,"y":2.58},{"s":3,"x":33.4,"y":2.62},{"s":3,"x":32.6,"y":2.7},{"s":3,"x":31.8,"y":2.62},{"s":3,"x":29.4,"y":2.56},
{"s":3,"x":16.1,"y":2.56},{"s":3,"x":15.8,"y":2.72},{"s":3,"x":15.5,"y":2.56},{"s":3,"x":11.1,"y":2.56},{"s":3,"x":10.8,"y":2.68},{"s":3,"x":10.5,"y":2.56},
{"s":3,"x":7.75,"y":2.56},{"s":3,"x":7.4,"y":19.5},{"s":3,"x":7.05,"y":2.56},{"s":3,"x":5.25,"y":2.56},{"s":3,"x":4.9,"y":19.5},{"s":3,"x":4.55,"y":2.56},{"s":3,"x":3.55,"y":2.56},{"s":3,"x":3.2,"y":19.5},{"s":3,"x":2.85,"y":2.56},{"s":3,"x":1.45,"y":2.56},{"s":3,"x":1.1,"y":19.5},{"s":3,"x":0.75,"y":2.56},{"s":3,"x":0.05,"y":2.56},{"s":3,"x":-0.3,"y":19.5},{"s":3,"x":-0.65,"y":2.56},
{"s":3,"x":-3.95,"y":2.56},{"s":3,"x":-4.3,"y":2.62},{"s":3,"x":-4.65,"y":2.56},
{"s":3,"x":-100,"y":2.56},

{"s":2,"x":250,"y":1.56},
{"s":2,"x":185.0,"y":1.56},{"s":2,"x":167.5,"y":1.66},{"s":2,"x":158.5,"y":1.78},{"s":2,"x":149.5,"y":1.66},{"s":2,"x":125.0,"y":1.56},
{"s":2,"x":108.7,"y":1.56},{"s":2,"x":93.7,"y":1.7},{"s":2,"x":88.7,"y":1.87},{"s":2,"x":83.7,"y":1.7},{"s":2,"x":68.7,"y":1.54},
{"s":2,"x":45.0,"y":1.56},{"s":2,"x":41.0,"y":1.64},{"s":2,"x":39.0,"y":1.78},{"s":2,"x":37.5,"y":1.7},{"s":2,"x":36.0,"y":1.73},{"s":2,"x":34.0,"y":1.62},{"s":2,"x":30.0,"y":1.56},
{"s":2,"x":28.0,"y":1.56},{"s":2,"x":22.0,"y":1.7},{"s":2,"x":17.5,"y":1.9},{"s":2,"x":16.1,"y":1.93},{"s":2,"x":15.8,"y":2.0},{"s":2,"x":15.5,"y":1.9},{"s":2,"x":13.0,"y":1.8},{"s":2,"x":11.1,"y":1.72},{"s":2,"x":10.8,"y":1.82},{"s":2,"x":10.5,"y":1.7},{"s":2,"x":9.2,"y":1.68},
{"s":2,"x":8.0,"y":1.62},{"s":2,"x":7.6,"y":19.5},{"s":2,"x":7.2,"y":1.7},{"s":2,"x":5.8,"y":1.7},{"s":2,"x":5.4,"y":19.5},{"s":2,"x":5.0,"y":1.6},{"s":2,"x":4.0,"y":1.6},{"s":2,"x":3.6,"y":19.5},{"s":2,"x":3.2,"y":1.6},{"s":2,"x":2.2,"y":1.6},{"s":2,"x":1.8,"y":19.5},{"s":2,"x":1.4,"y":1.5},{"s":2,"x":0.2,"y":1.5},{"s":2,"x":-0.2,"y":19.5},{"s":2,"x":-0.6,"y":1.45},{"s":2,"x":-1.6,"y":1.45},{"s":2,"x":-2.6,"y":1.56},
{"s":2,"x":-100,"y":1.56},

{"s":1,"x":250,"y":0.52},{"s":1,"x":247,"y":0.6},
{"s":1,"x":184.7,"y":0.56},{"s":1,"x":169.7,"y":0.61},{"s":1,"x":164.7,"y":0.67},{"s":1,"x":159.7,"y":0.61},{"s":1,"x":144.7,"y":0.56},
{"s":1,"x":125,"y":0.53},
{"s":1,"x":112.9,"y":0.56},{"s":1,"x":97.9,"y":0.71},{"s":1,"x":92.9,"y":0.9},{"s":1,"x":87.9,"y":0.71},{"s":1,"x":72.9,"y":0.56},
{"s":1,"x":60,"y":0.53},
{"s":1,"x":47.0,"y":0.56},{"s":1,"x":42.5,"y":0.67},{"s":1,"x":40.5,"y":0.76},{"s":1,"x":38.8,"y":0.68},{"s":1,"x":37.0,"y":0.71},{"s":1,"x":35.0,"y":0.62},{"s":1,"x":31.0,"y":0.56},
{"s":1,"x":27.0,"y":0.56},{"s":1,"x":21.0,"y":0.8},{"s":1,"x":18.0,"y":0.98},{"s":1,"x":16.3,"y":1.0},{"s":1,"x":15.8,"y":1.05},{"s":1,"x":15.3,"y":0.95},{"s":1,"x":13.0,"y":0.85},{"s":1,"x":11.1,"y":0.75},{"s":1,"x":10.8,"y":0.82},{"s":1,"x":10.5,"y":0.72},{"s":1,"x":9.2,"y":0.7},{"s":1,"x":8.4,"y":0.65},
{"s":1,"x":8.2,"y":0.65},{"s":1,"x":7.8,"y":19.5},{"s":1,"x":7.4,"y":0.75},{"s":1,"x":6.9,"y":0.8},{"s":1,"x":6.5,"y":19.5},{"s":1,"x":6.1,"y":0.85},{"s":1,"x":5.4,"y":0.85},{"s":1,"x":5.0,"y":19.5},{"s":1,"x":4.6,"y":0.75},{"s":1,"x":3.8,"y":0.75},{"s":1,"x":3.4,"y":19.5},{"s":1,"x":3.0,"y":0.8},{"s":1,"x":2.1,"y":0.75},{"s":1,"x":1.7,"y":19.5},{"s":1,"x":1.3,"y":0.7},{"s":1,"x":0.2,"y":0.65},{"s":1,"x":-0.2,"y":19.5},{"s":1,"x":-0.6,"y":0.45},{"s":1,"x":-1.0,"y":0.42},{"s":1,"x":-1.6,"y":0.4},{"s":1,"x":-2.3,"y":0.5},{"s":1,"x":-3.5,"y":0.56},
{"s":1,"x":-100,"y":0.56}
]},
"layer":[
{"mark":{"type":"line","opacity":0},
 "encoding":{
  "x":{"field":"x","type":"quantitative","scale":{"domain":[-100,250],"reverse":true,"nice":false,"zero":false},
   "axis":{"orient":"top","values":[250,240,230,220,210,200,190,180,170,160,150,140,130,120,110,100,90,80,70,60,50,40,30,20,10,0,-10,-20,-30,-40,-50,-60,-70,-80,-90,-100],"grid":true,"gridColor":"#c8c8c8","gridWidth":1.5,"labels":false,"ticks":false,"domain":false,"title":null}},
  "y":{"field":"y","type":"quantitative","scale":{"domain":[0.5,18.5],"nice":false,"zero":false},
   "axis":{"orient":"left","values":[0.5,1.5,2.5,3.5,4.5,5.5,6.5,7.5,8.5,9.5,10.5,11.5,12.5,13.5,14.5,15.5,16.5,17.5,18.5],"grid":true,"gridColor":"#c8c8c8","gridWidth":1.5,"labels":false,"ticks":false,"domain":false,"title":null}},
  "detail":{"field":"s","type":"nominal"}
 }},
{"mark":{"type":"line","strokeJoin":"round","strokeCap":"round","clip":false},
 "encoding":{
  "x":{"field":"x","type":"quantitative","scale":{"domain":[-100,250],"reverse":true,"nice":false,"zero":false},
   "axis":{"orient":"bottom","offset":42,"grid":false,"values":[250,245,240,235,230,225,220,215,210,205,200,195,190,185,180,175,170,165,160,155,150,145,140,135,130,125,120,115,110,105,100,95,90,85,80,75,70,65,60,55,50,45,40,35,30,25,20,15,10,5,0,-5,-10,-15,-20,-25,-30,-35,-40,-45,-50,-55,-60,-65,-70,-75,-80,-85,-90,-95,-100],
    "tickSize":{"condition":{"test":"datum.value % 10 === 0","value":5},"value":3},
    "labelExpr":"datum.value % 20 === 0 ? datum.label : ''",
    "format":"d","labelFont":"DejaVu Sans Condensed, Liberation Sans Narrow, sans-serif","labelFontSize":12,"labelColor":"#222","labelPadding":3,"labelFlush":false,"labelOverlap":false,
    "domainColor":"#000","tickColor":"#000","title":"f1 (ppm)","titleFont":"DejaVu Sans Condensed, Liberation Sans Narrow, sans-serif","titleFontSize":12,"titleFontWeight":"normal","titleColor":"#222","titlePadding":3}},
  "y":{"field":"y","type":"quantitative","scale":{"domain":[0.5,18.5],"nice":false,"zero":false},
   "axis":{"orient":"right","offset":2,"grid":false,"values":[1,2,3,4,5,6,7,8,9,10,11,12,13,14,15,16,17,18],"format":"d","labelFont":"DejaVu Sans","labelFontSize":11,"labelColor":"#111","tickSize":5,"tickColor":"#000","domainColor":"#000","labelPadding":3,"title":null}},
  "color":{"field":"s","type":"ordinal","legend":null,"scale":{"domain":[1,2,3,4,5,6,7,8,9,10,11,12,13,14,15,16,17,18],"range":["#8c0a3c","#8c1060","#8b1a8b","#6a0a90","#440c96","#0a0a8c","#0a2a8c","#0a5a8c","#168b8b","#128a72","#0e8a50","#0a8a0a","#3a8c14","#6a8c0a","#8c8c0a","#8c640a","#8c3a0a","#8c0a0a"]}},
  "strokeWidth":{"field":"s","type":"ordinal","legend":null,"scale":{"domain":[1,2,3,4,5,6,7,8,9,10,11,12,13,14,15,16,17,18],"range":[3.2,3.2,2.2,2.2,2.0,3.6,1.8,2.4,1.6,1.8,1.6,2.0,1.5,1.5,1.5,1.5,2.0,1.8]}}
 }}
],
"resolve":{"axis":{"x":"independent","y":"independent"}}
}
